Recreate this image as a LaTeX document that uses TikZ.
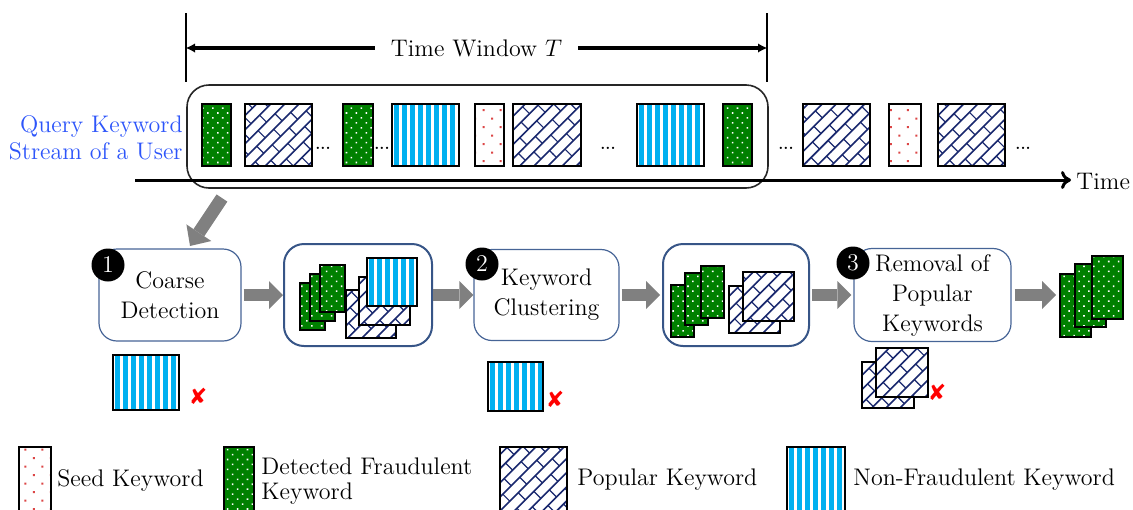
\documentclass[tikz,border=0pt]{standalone}
\usepackage{fontspec}
\newfontfamily\dejavufont{DejaVu Sans}
\usetikzlibrary{arrows.meta,patterns,patterns.meta}

\definecolor{fraudgreen}{RGB}{0,128,0}
\definecolor{popnavy}{RGB}{25,40,110}
\definecolor{stripecyan}{RGB}{0,176,240}
\definecolor{seedred}{RGB}{220,70,70}
\definecolor{procblue}{RGB}{70,100,150}
\definecolor{resblue}{RGB}{55,85,135}
\definecolor{queryblue}{RGB}{45,85,250}
\definecolor{arrowgray}{RGB}{128,128,128}

\pgfdeclarepattern{
  name=brick,
  type=uncolored,
  bottom left={\pgfpoint{-0.1pt}{-0.1pt}},
  top right={\pgfpoint{12.1pt}{10.1pt}},
  tile size={\pgfpoint{12pt}{10pt}},
  tile transformation={\pgftransformrotate{45}},
  code={
    \pgfsetlinewidth{0.8pt}
    \pgfpathmoveto{\pgfpoint{-0.1pt}{2.5pt}}\pgfpathlineto{\pgfpoint{12.1pt}{2.5pt}}
    \pgfpathmoveto{\pgfpoint{-0.1pt}{7.5pt}}\pgfpathlineto{\pgfpoint{12.1pt}{7.5pt}}
    \pgfusepath{stroke}
    \pgfsetlinewidth{0.6pt}
    \pgfpathmoveto{\pgfpoint{3pt}{2.5pt}}\pgfpathlineto{\pgfpoint{3pt}{7.5pt}}
    \pgfpathmoveto{\pgfpoint{9pt}{7.5pt}}\pgfpathlineto{\pgfpoint{9pt}{10.1pt}}
    \pgfpathmoveto{\pgfpoint{9pt}{-0.1pt}}\pgfpathlineto{\pgfpoint{9pt}{2.5pt}}
    \pgfusepath{stroke}
  }
}

\tikzset{
  cardbase/.style={draw=black, line width=0.7pt},
  fraud/.style={cardbase, preaction={fill=fraudgreen},
    pattern={Dots[radius=0.55pt,distance=3.5pt,angle=45]}, pattern color=white},
  popular/.style={cardbase, preaction={fill=white}, pattern=brick, pattern color=popnavy},
  seedkw/.style={cardbase, preaction={fill=white},
    pattern={Dots[radius=0.7pt,distance=6pt,angle=45]}, pattern color=seedred},
  procbox/.style={draw=procblue, line width=0.6pt, rounded corners=9pt, align=center, inner sep=0pt},
  resbox/.style={draw=resblue, line width=1pt, rounded corners=10pt, inner sep=0pt},
  numdot/.style={circle, fill=black, text=white, minimum size=16.5pt, inner sep=0pt},
  blockarrow/.style={draw=arrowgray, line width=6pt, -{Triangle[length=7pt,width=14pt,line width=0pt]}},
  xmark/.style={text=red, font=\dejavufont\fontsize{11}{11}\selectfont, inner sep=0pt},
  dotsty/.style={font=\fontsize{7}{7}\selectfont\bfseries, inner sep=0pt},
  legtext/.style={anchor=west, inner sep=0pt, align=left},
}

% non-fraudulent keyword card: vertical cyan stripes
\newcommand\nonfraudcard[4]{%
  \begin{scope}
    \clip (#1,#2) rectangle (#3,#4);
    \fill[white] (#1,#2) rectangle (#3,#4);
    \foreach \s in {0,8,...,80} { \fill[stripecyan] ({#1+\s+2},#2) rectangle ({#1+\s+7},#4); }
  \end{scope}
  \draw[cardbase] (#1,#2) rectangle (#3,#4);
}

\begin{document}
\begin{tikzpicture}[x=0.5pt,y=-0.5pt, font=\fontsize{12}{15}\selectfont]
\useasboundingbox (0,0) rectangle (1133,509);
\clip (0,0) rectangle (1133,509);

% ---- time window ----
\draw[line width=1pt] (186,13) -- (186,82);
\draw[line width=1pt] (767,13) -- (767,82);
\coordinate (twL) at (186,48);
\coordinate (twR) at (767,48);
\draw[line width=1.6pt, {Latex[length=4.5pt,width=4.5pt,line width=0pt]}-{Latex[length=4.5pt,width=4.5pt,line width=0pt]}] (twL) -- (twR);
\node[fill=white, inner xsep=8pt, inner ysep=2pt] (twlabel) at (476.5,48) {Time Window $T$};

% ---- stream box ----
\node[draw=black!85, line width=0.8pt, rounded corners=11pt, minimum width=290.5pt, minimum height=51.5pt, inner sep=0pt] (stream) at (477.5,136.5) {};

\node[anchor=east, align=right, text=queryblue, font=\fontsize{12}{13.5}\selectfont, inner sep=0pt] (query) at (183,138) {Query Keyword\\Stream of a User};

% time axis
\coordinate (axL) at (135,180);
\node[anchor=west, inner sep=0pt] (timelbl) at (1076,181) {Time};
\draw[line width=1.5pt, -{To[length=5pt,width=9pt]}, shorten >=2.5pt] (axL) -- (axL -| timelbl.west);

% stream cards
\foreach \a/\b in {202/231, 343/373, 723/752} { \path[fraud] (\a,104) rectangle (\b,166); }
\foreach \a/\b in {245/312, 513/581, 803/870, 938/1005} { \path[popular] (\a,104) rectangle (\b,166); }
\nonfraudcard{392}{104}{459}{166}
\nonfraudcard{637}{104}{704}{166}
\foreach \a/\b in {475/504, 889/921} { \path[seedkw] (\a,104) rectangle (\b,166); }
\node[dotsty, anchor=base west] (d1) at (315,149) {...};
\node[dotsty, anchor=base west] (d2) at (374,149) {...};
\node[dotsty, anchor=base west] (d3) at (600,149) {...};
\node[dotsty, anchor=base west] (d4) at (778,149) {...};
\node[dotsty, anchor=base west] (d5) at (1015,149) {...};

% ---- process row ----
\node[procbox, minimum width=71pt, minimum height=46pt] (coarse) at (170,295) {Coarse\\Detection};
\node[resbox, minimum width=74pt, minimum height=51pt] (res1) at (358,295) {};
\node[procbox, minimum width=72.5pt, minimum height=45.5pt] (kw) at (546.5,295) {Keyword\\Clustering};
\node[resbox, minimum width=73pt, minimum height=51pt] (res2) at (736,295) {};
\node[procbox, minimum width=78.5pt, minimum height=46.5pt] (rem) at (932.5,295) {Removal of\\Popular\\Keywords};

\node[numdot] (n1) at (108,265) {1};
\node[numdot] (n2) at (482,264) {2};
\node[numdot] (n3) at (853,263) {3};

% block arrows
\coordinate (dtail) at (222,198);
\coordinate (dtip) at (190,246);
\draw[draw=arrowgray, line width=6.5pt, -{Triangle[length=8pt,width=15pt,line width=0pt]}] (dtail) -- (dtip);
\draw[blockarrow, shorten <=1pt] (coarse.east) -- (res1.west);
\draw[blockarrow] (res1.east) -- (kw.west);
\draw[blockarrow, shorten <=1pt, shorten >=1pt] (kw.east) -- (res2.west);
\draw[blockarrow, shorten <=1pt, shorten >=1pt] (res2.east) -- (rem.west);
\coordinate (outin) at (1056,295);
\draw[blockarrow, shorten <=1.5pt] (rem.east) -- (outin);

% result 1 contents
\path[fraud] (300,283) rectangle (325,330);
\path[fraud] (310,274) rectangle (335,321);
\path[fraud] (320,265) rectangle (345,312);
\path[popular] (346,290) rectangle (396,338);
\path[popular] (359,277) rectangle (410,325);
\nonfraudcard{367}{258}{417}{306}

% result 2 contents
\path[fraud] (671,285) rectangle (694,337);
\path[fraud] (685,273) rectangle (708,325);
\path[fraud] (701,266) rectangle (724,318);
\path[popular] (729,286) rectangle (780,333);
\path[popular] (743,272) rectangle (794,321);

% final output
\path[fraud] (1060,274) rectangle (1091,337);
\path[fraud] (1075,264) rectangle (1106,327);
\path[fraud] (1092,256) rectangle (1123,319);

% rejected
\nonfraudcard{113}{355}{179}{410}
\node[xmark] (x1) at (198,396) {✘};
\nonfraudcard{488}{362}{543}{411}
\node[xmark] (x2) at (555,399) {✘};
\path[popular] (862,362) rectangle (914,408);
\path[popular] (876,348) rectangle (928,397);
\node[xmark] (x3) at (937,392) {✘};

% ---- legend ----
\path[seedkw] (19,447) rectangle (51,512);
\node[legtext] (lseed) at (57,480) {Seed Keyword};
\path[fraud] (224,447) rectangle (254,512);
\node[legtext, font=\fontsize{12}{12.5}\selectfont] (lfraud) at (261,481) {Detected Fraudulent\\Keyword};
\path[popular] (500,447) rectangle (567,512);
\node[legtext] (lpop) at (577,480) {Popular Keyword};
\nonfraudcard{787}{447}{845}{512}
\node[legtext] (lnon) at (853,480) {Non-Fraudulent Keyword};
\end{tikzpicture}
\end{document}
